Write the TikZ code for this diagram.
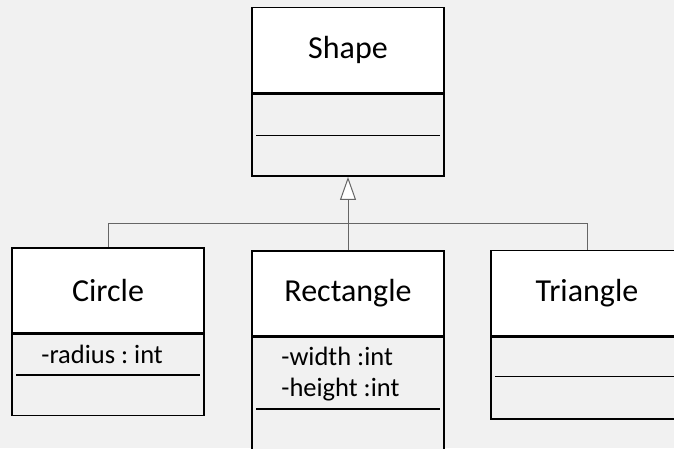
\documentclass[tikz,border=0pt]{standalone}
\usepackage{fontspec}
\setmainfont{Carlito}
\usetikzlibrary{arrows.meta}
\frenchspacing
\definecolor{paper}{HTML}{F1F1F1}
\colorlet{box edge}{black}
\colorlet{link}{black!60}
\tikzset{classname/.style={draw=box edge, line width=1.6pt, fill=white, minimum width=192pt, minimum height=85pt, inner sep=0pt, font=\fontsize{32}{37}\selectfont},
	classbody/.style={draw=box edge, line width=1.6pt, fill=paper, minimum width=192pt, inner sep=0pt, anchor=north},
	attr/.style={font=\fontsize{26.5}{31}\selectfont, anchor=base west, inner sep=0pt},
	divider/.style={line width=1.4pt},
    inherit/.style={draw=link, line width=1pt}}

\begin{document}
\begin{tikzpicture}[x=1pt, y=-1pt]

 \useasboundingbox[fill=paper] (0,0) rectangle (674,448);

 % classes
 \node[classname] (shape) at (348,50) {Shape};
 \node[classbody, minimum height=82pt] (shapebody) at (shape.south) {};
 \node[classname] (circle) at (108,290.5) {Circle};
 \node[classbody, minimum height=81pt] (circlebody) at (circle.south) {};
 \node[classname] (rect) at (348,293.5) {Rectangle};
 \node[classbody, minimum height=125pt] (rectbody) at (rect.south) {};
 \node[classname] (triangle) at (587,293) {Triangle};
 \node[classbody, minimum height=82pt] (trianglebody) at (triangle.south) {};

 % attributes
 \node[attr] (radius) at ([xshift=30pt,yshift=-30pt]circlebody.north west) {-radius : int};
 \node[attr] (width) at ([xshift=30pt,yshift=-29pt]rectbody.north west) {-width :int};
 \node[attr] (height) at ([xshift=30pt,yshift=-60pt]rectbody.north west) {-height :int};

 % dividers
 \draw[divider] ([xshift=5pt,yshift=-42pt]shapebody.north west) -- ([xshift=-5pt,yshift=-42pt]shapebody.north east);
 \draw[divider] ([xshift=5pt,yshift=-41pt]circlebody.north west) -- ([xshift=-5pt,yshift=-41pt]circlebody.north east);
 \draw[divider] ([xshift=5pt,yshift=-72pt]rectbody.north west) -- ([xshift=-5pt,yshift=-72pt]rectbody.north east);
 \draw[divider] ([xshift=5pt,yshift=-40pt]trianglebody.north west) -- ([xshift=-5pt,yshift=-40pt]trianglebody.north east);

 % inheritance
 \coordinate (bus) at (0,223);
 \draw[inherit] (circle.north) -- (circle.north |- bus) -- (triangle.north |- bus) -- (triangle.north);
 \draw[inherit, -{Triangle[open, fill=white, length=23pt, width=16pt]}] (rect.north) -- (shapebody.south);

\end{tikzpicture}
\end{document}
